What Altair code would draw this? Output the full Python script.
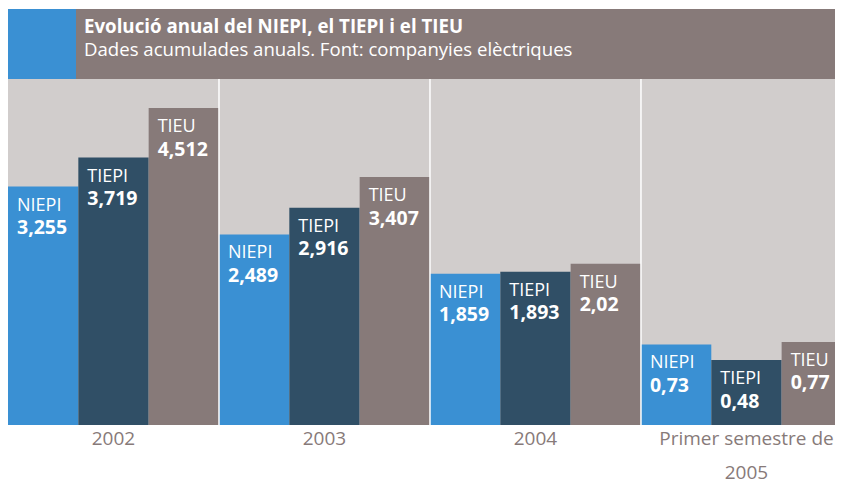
import altair as alt
import pandas as pd

# ---- data ----
groups = ["2002", "2003", "2004", "Primer semestre de\n2005"]
series = ["NIEPI", "TIEPI", "TIEU"]
niepi = [3.255, 2.489, 1.859, 0.73]
tiepi = [3.719, 2.916, 1.893, 0.48]
tieu = [4.512, 3.407, 2.02, 0.77]
title_text = "Evolució anual del NIEPI, el TIEPI i el TIEU"
subtitle_text = "Dades acumulades anuals. Font: companyies elèctriques"

colors = ["#3a90d3", "#304f66", "#877a79"]
bg_grey = "#d1cdcc"
brown = "#877a79"

W, H = 827, 346
UNIT = 70.33
Y_BASE = -0.56
Y_TOP = 4.976
X_MAX = W / UNIT

rows = []
for g, name in enumerate(groups):
    for k, (s, vals) in enumerate(zip(series, [niepi, tiepi, tieu])):
        v = vals[g]
        rows.append({
            "group": name, "series": s, "x0": 3 * g + k, "x1": 3 * g + k + 1,
            "value": v, "base": Y_BASE, "label": str(v).replace(".", ","),
        })
df = pd.DataFrame(rows)
groups_df = pd.DataFrame({"group": groups, "xc": [3 * g + 1.5 for g in range(len(groups))], "base": [Y_BASE] * len(groups)})
sep_df = pd.DataFrame({"b": [3, 6, 9]})

xs = alt.Scale(domain=[0, X_MAX], nice=False, zero=False)
ys = alt.Scale(domain=[Y_BASE, Y_TOP], nice=False, zero=False)
FONT = "Open Sans"

base = alt.Chart(df)
bars = base.mark_rect(clip=True).encode(
    x=alt.X("x0:Q", scale=xs, axis=None),
    x2="x1:Q",
    y=alt.Y("value:Q", scale=ys, axis=None),
    y2="base:Q",
    color=alt.Color("series:N", scale=alt.Scale(domain=series, range=colors), legend=None),
)
seps = alt.Chart(sep_df).mark_rule(color="white", strokeWidth=1.5).encode(
    x=alt.X("b:Q", scale=xs, axis=None)
)
names = base.mark_text(align="left", baseline="alphabetic", dx=9, dy=24, font=FONT,
                       fontSize=18, color="white").encode(
    x=alt.X("x0:Q", scale=xs, axis=None), y=alt.Y("value:Q", scale=ys, axis=None), text="series:N")
vals = base.mark_text(align="left", baseline="alphabetic", dx=9, dy=47.5, font=FONT,
                      fontSize=19.5, fontWeight="bold", color="white").encode(
    x=alt.X("x0:Q", scale=xs, axis=None), y=alt.Y("value:Q", scale=ys, axis=None), text="label:N")
glabels = alt.Chart(groups_df).mark_text(align="center", baseline="alphabetic", dy=20, font=FONT,
                                         fontSize=19, color=brown, lineBreak="\n", lineHeight=34).encode(
    x=alt.X("xc:Q", scale=xs, axis=None), y=alt.Y("base:Q", scale=ys, axis=None), text="group:N")

hdr_df = pd.DataFrame({"t": [title_text], "s": [subtitle_text]})
hdr_brown = alt.Chart(hdr_df).mark_rect(color=brown).encode(
    x=alt.value(0), x2=alt.value(W), y=alt.value(-70), y2=alt.value(0))
hdr_blue = alt.Chart(hdr_df).mark_rect(color=colors[0]).encode(
    x=alt.value(0), x2=alt.value(68), y=alt.value(-70), y2=alt.value(0))
hdr_title = alt.Chart(hdr_df).mark_text(align="left", baseline="alphabetic", font=FONT, fontSize=18.7,
                                        fontWeight="bold", color="white").encode(
    x=alt.value(76), y=alt.value(-46), text="t:N")
hdr_sub = alt.Chart(hdr_df).mark_text(align="left", baseline="alphabetic", font=FONT, fontSize=18.6,
                                      color="white").encode(
    x=alt.value(76), y=alt.value(-23), text="s:N")

chart = alt.layer(hdr_brown, hdr_blue, hdr_title, hdr_sub, bars, seps, names, vals, glabels).properties(
    width=W, height=H, autosize="none",
    padding={"left": 0, "top": 71, "right": 0, "bottom": 58},
).configure_view(stroke=None, fill=bg_grey)

chart.save("out.html", embed_options={"renderer": "svg", "actions": False})
